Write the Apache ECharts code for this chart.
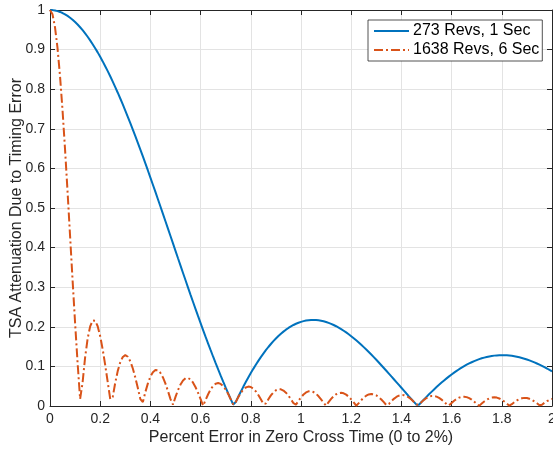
<!DOCTYPE html>
<html>
<head>
<meta charset="utf-8">
<title>TSA Attenuation Due to Timing Error</title>
<script src="https://cdn.jsdelivr.net/npm/echarts@6/dist/echarts.min.js"></script>
<style>
  html, body { margin: 0; padding: 0; background: #fff; }
  #chart { width: 553px; height: 449px; }
</style>
</head>
<body>
<div id="chart"></div>
<script>
// percent error samples, 0 to 2 % in 0.01 steps
const errStep = 0.01
const percentError = []
for (let i = 0; i <= 200; i++) percentError.push(+(i * errStep).toFixed(2))

// 273 Revs, 1 Sec
const revs273 = [
  1.0000, 0.9997, 0.9988, 0.9972, 0.9951, 0.9924, 0.9890, 0.9850, 0.9805, 0.9754,
  0.9696, 0.9633, 0.9564, 0.9490, 0.9410, 0.9325, 0.9234, 0.9137, 0.9036, 0.8930,
  0.8818, 0.8702, 0.8581, 0.8456, 0.8326, 0.8192, 0.8053, 0.7911, 0.7765, 0.7615,
  0.7461, 0.7304, 0.7144, 0.6981, 0.6815, 0.6646, 0.6475, 0.6302, 0.6126, 0.5948,
  0.5769, 0.5588, 0.5406, 0.5222, 0.5037, 0.4852, 0.4666, 0.4479, 0.4292, 0.4105,
  0.3918, 0.3731, 0.3545, 0.3359, 0.3175, 0.2991, 0.2808, 0.2627, 0.2447, 0.2269,
  0.2093, 0.1918, 0.1744, 0.1576, 0.1409, 0.1244, 0.1082, 0.0923, 0.0767, 0.0614,
  0.0464, 0.0318, 0.0175, 0.0036, 0.0100, 0.0232, 0.0360, 0.0484, 0.0604, 0.0719,
  0.0831, 0.0938, 0.1041, 0.1140, 0.1234, 0.1324, 0.1409, 0.1490, 0.1566, 0.1637,
  0.1704, 0.1767, 0.1825, 0.1878, 0.1927, 0.1971, 0.2011, 0.2046, 0.2077, 0.2103,
  0.2125, 0.2143, 0.2157, 0.2166, 0.2171, 0.2172, 0.2169, 0.2163, 0.2152, 0.2138,
  0.2120, 0.2098, 0.2074, 0.2045, 0.2014, 0.1979, 0.1942, 0.1901, 0.1858, 0.1812,
  0.1763, 0.1713, 0.1659, 0.1604, 0.1547, 0.1487, 0.1426, 0.1364, 0.1299, 0.1234,
  0.1167, 0.1099, 0.1030, 0.0960, 0.0890, 0.0819, 0.0747, 0.0676, 0.0604, 0.0532,
  0.0460, 0.0388, 0.0316, 0.0245, 0.0175, 0.0105, 0.0036, 0.0033, 0.0100, 0.0166,
  0.0231, 0.0295, 0.0357, 0.0418, 0.0478, 0.0535, 0.0591, 0.0645, 0.0698, 0.0748,
  0.0796, 0.0843, 0.0887, 0.0929, 0.0969, 0.1006, 0.1042, 0.1075, 0.1105, 0.1134,
  0.1159, 0.1183, 0.1204, 0.1222, 0.1238, 0.1252, 0.1263, 0.1272, 0.1278, 0.1282,
  0.1284, 0.1283, 0.1280, 0.1274, 0.1267, 0.1257, 0.1244, 0.1230, 0.1214, 0.1195,
  0.1175, 0.1152, 0.1128, 0.1102, 0.1074, 0.1045, 0.1014, 0.0981, 0.0947, 0.0911,
  0.0875
]

// 1638 Revs, 6 Sec
const revs1638 = [
  1.0000, 0.9890, 0.9564, 0.9036, 0.8326, 0.7461, 0.6475, 0.5406, 0.4292, 0.3175,
  0.2093, 0.1082, 0.0175, 0.0604, 0.1234, 0.1704, 0.2011, 0.2157, 0.2152, 0.2014,
  0.1763, 0.1426, 0.1030, 0.0604, 0.0175, 0.0231, 0.0591, 0.0887, 0.1105, 0.1238,
  0.1284, 0.1244, 0.1128, 0.0947, 0.0716, 0.0452, 0.0174, 0.0100, 0.0353, 0.0571,
  0.0741, 0.0855, 0.0909, 0.0902, 0.0837, 0.0721, 0.0564, 0.0377, 0.0174, 0.0033,
  0.0229, 0.0402, 0.0543, 0.0643, 0.0699, 0.0707, 0.0669, 0.0589, 0.0474, 0.0332,
  0.0173, 0.0008, 0.0152, 0.0297, 0.0418, 0.0508, 0.0563, 0.0580, 0.0558, 0.0501,
  0.0413, 0.0301, 0.0172, 0.0036, 0.0099, 0.0224, 0.0331, 0.0414, 0.0468, 0.0490,
  0.0479, 0.0438, 0.0369, 0.0278, 0.0171, 0.0055, 0.0061, 0.0171, 0.0268, 0.0344,
  0.0397, 0.0422, 0.0420, 0.0390, 0.0336, 0.0260, 0.0170, 0.0070, 0.0033, 0.0131,
  0.0218, 0.0290, 0.0342, 0.0370, 0.0373, 0.0352, 0.0309, 0.0246, 0.0168, 0.0081,
  0.0010, 0.0099, 0.0179, 0.0247, 0.0297, 0.0327, 0.0335, 0.0321, 0.0287, 0.0234,
  0.0167, 0.0090, 0.0008, 0.0073, 0.0147, 0.0211, 0.0260, 0.0291, 0.0303, 0.0295,
  0.0268, 0.0223, 0.0165, 0.0097, 0.0023, 0.0051, 0.0120, 0.0181, 0.0229, 0.0261,
  0.0276, 0.0273, 0.0251, 0.0214, 0.0163, 0.0102, 0.0036, 0.0033, 0.0098, 0.0155,
  0.0202, 0.0235, 0.0252, 0.0253, 0.0237, 0.0205, 0.0161, 0.0107, 0.0046, 0.0017,
  0.0078, 0.0133, 0.0179, 0.0212, 0.0232, 0.0235, 0.0224, 0.0198, 0.0159, 0.0110,
  0.0055, 0.0003, 0.0061, 0.0114, 0.0158, 0.0192, 0.0213, 0.0220, 0.0212, 0.0190,
  0.0156, 0.0113, 0.0062, 0.0008, 0.0046, 0.0096, 0.0140, 0.0174, 0.0196, 0.0205,
  0.0201, 0.0183, 0.0154, 0.0115, 0.0069, 0.0018, 0.0032, 0.0081, 0.0123, 0.0157,
  0.0181
]

const seriesNames = ['273 Revs, 1 Sec', '1638 Revs, 6 Sec']

const fontFamily = '"Liberation Sans", Arial, Helvetica, sans-serif'
const axisColor = '#262626'
const gridColor = '#e3e3e3'

const chart = echarts.init(document.getElementById('chart'), null, { renderer: 'canvas' })

const tickLabel = v => String(+v.toFixed(1))

const option = {
  backgroundColor: '#fff',
  animation: false,
  textStyle: { fontFamily: fontFamily },
  grid: { left: 50, right: 1, top: 10, bottom: 43, containLabel: false, outerBoundsMode: 'none' },
  legend: {
    data: seriesNames,
    orient: 'vertical',
    left: 368,
    top: 20,
    padding: [3, 3, 3, 5],
    itemGap: 3,
    itemWidth: 35,
    itemHeight: 14,
    backgroundColor: '#fff',
    borderColor: axisColor,
    borderWidth: 0.8,
    borderRadius: 0,
    itemStyle: { opacity: 0 },
    textStyle: { fontSize: 16, color: '#000', fontFamily: fontFamily, padding: [0, 0, 0, -1] }
  },
  xAxis: [
    {
      type: 'value',
      min: 0,
      max: 2,
      interval: 0.2,
      name: 'Percent Error in Zero Cross Time (0 to 2%)',
      nameLocation: 'middle',
      nameGap: 24,
      nameMoveOverlap: false,
      nameTextStyle: { fontSize: 16, color: axisColor, fontFamily: fontFamily },
      axisLine: { show: true, onZero: false, lineStyle: { color: axisColor, width: 1 } },
      axisTick: { show: true, inside: true, length: 5, lineStyle: { color: axisColor } },
      axisLabel: { fontSize: 14, color: axisColor, margin: 6, formatter: tickLabel },
      splitLine: { show: true, lineStyle: { color: gridColor, width: 1 } }
    },
    {
      type: 'value',
      position: 'top',
      min: 0,
      max: 2,
      interval: 0.2,
      axisLine: { show: true, onZero: false, lineStyle: { color: axisColor, width: 1 } },
      axisTick: { show: true, inside: true, length: 5, lineStyle: { color: axisColor } },
      axisLabel: { show: false },
      splitLine: { show: false }
    }
  ],
  yAxis: [
    {
      type: 'value',
      min: 0,
      max: 1,
      interval: 0.1,
      name: 'TSA Attenuation Due to Timing Error',
      nameLocation: 'middle',
      nameGap: 25,
      nameMoveOverlap: false,
      nameTextStyle: { fontSize: 16, color: axisColor, fontFamily: fontFamily },
      axisLine: { show: true, onZero: false, lineStyle: { color: axisColor, width: 1 } },
      axisTick: { show: true, inside: true, length: 5, lineStyle: { color: axisColor } },
      axisLabel: { fontSize: 14, color: axisColor, margin: 5, formatter: tickLabel },
      splitLine: { show: true, lineStyle: { color: gridColor, width: 1 } }
    },
    {
      type: 'value',
      position: 'right',
      min: 0,
      max: 1,
      interval: 0.1,
      axisLine: { show: true, onZero: false, lineStyle: { color: axisColor, width: 1 } },
      axisTick: { show: true, inside: true, length: 5, lineStyle: { color: axisColor } },
      axisLabel: { show: false },
      splitLine: { show: false }
    }
  ],
  series: [
    {
      name: seriesNames[0],
      type: 'line',
      xAxisIndex: 0,
      yAxisIndex: 0,
      showSymbol: false,
      symbol: 'none',
      data: percentError.map((x, i) => [x, revs273[i]]),
      lineStyle: { color: '#0072BD', width: 2 },
      itemStyle: { color: '#0072BD' },
      z: 3
    },
    {
      name: seriesNames[1],
      type: 'line',
      xAxisIndex: 0,
      yAxisIndex: 0,
      showSymbol: false,
      symbol: 'none',
      data: percentError.map((x, i) => [x, revs1638[i]]),
      lineStyle: { color: '#D95319', width: 2, type: [9, 3, 2, 3] },
      itemStyle: { color: '#D95319' },
      z: 4
    }
  ]
}

chart.setOption(option)
window.addEventListener('resize', () => chart.resize(), false)
</script>
</body>
</html>
